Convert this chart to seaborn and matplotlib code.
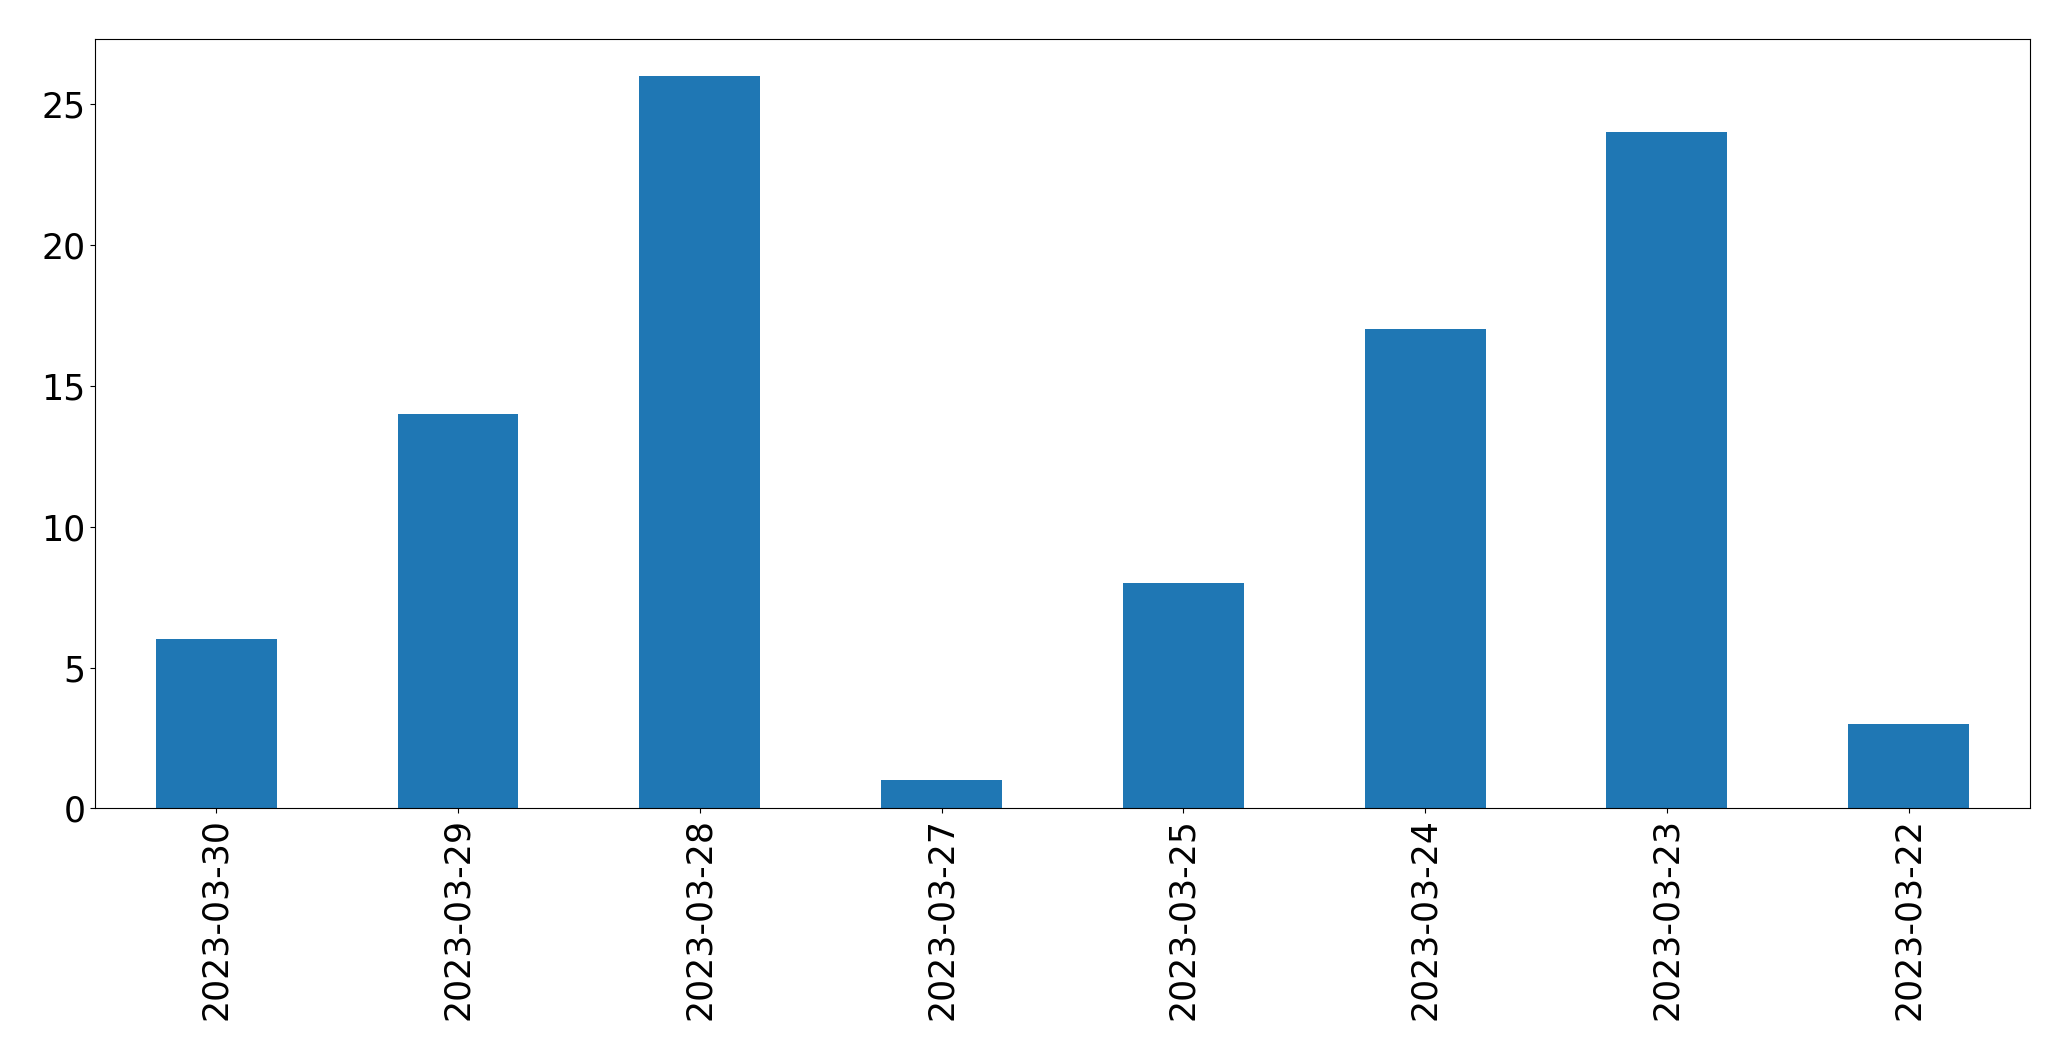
import matplotlib
matplotlib.use("Agg")
import matplotlib.pyplot as plt
import seaborn as sns
import pandas as pd

dates = ["2023-03-30", "2023-03-29", "2023-03-28", "2023-03-27",
         "2023-03-25", "2023-03-24", "2023-03-23", "2023-03-22"]
counts = [6, 14, 26, 1, 8, 17, 24, 3]

df = pd.DataFrame({"date": dates, "count": counts})

fig = plt.figure(figsize=(20.71, 10.61), dpi=100)
ax = fig.add_axes([0.046, 0.238, 0.934, 0.725])
sns.barplot(data=df, x="date", y="count", order=dates, color="#1f77b4",
            saturation=1, width=0.5, linewidth=0, ax=ax)
ax.set_xlim(-0.5, len(dates) - 0.5)
ax.set_ylim(0, max(counts) * 1.05)
ax.set_xlabel("")
ax.set_ylabel("")
ax.tick_params(axis="both", labelsize=25)
plt.setp(ax.get_xticklabels(), rotation=90)
fig.savefig("out.png", dpi=100)
